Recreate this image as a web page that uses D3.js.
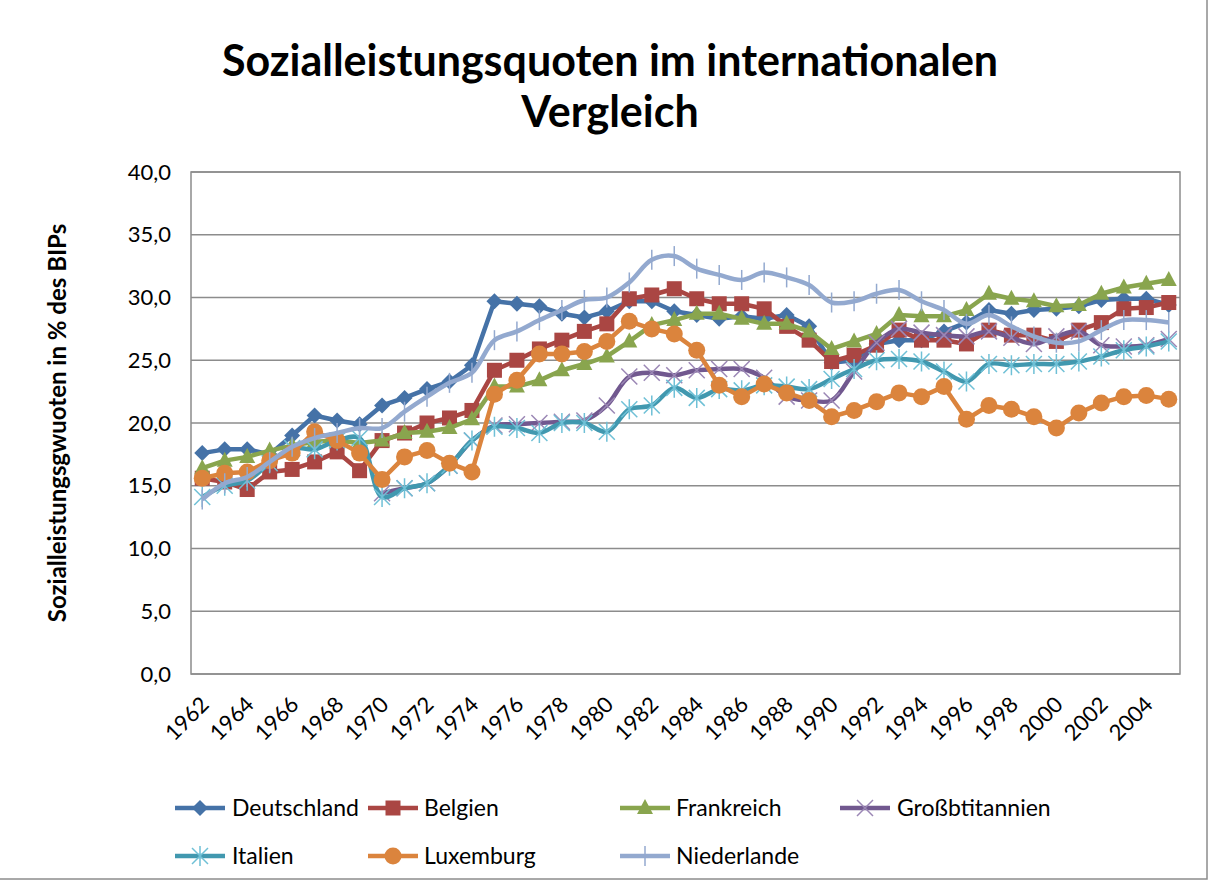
<!DOCTYPE html>
<html>
<head>
  <meta charset="utf-8">
  <title>Sozialleistungsquoten im internationalen Vergleich</title>
  <script src="https://d3js.org/d3.v7.min.js"></script>
  <style>
    body { margin: 0; background: #fff; }
    svg { font-family: Lato, "Open Sans", sans-serif; }
  </style>
</head>
<body>
  <svg id="chart" width="1213" height="883"></svg>

  <script>
    // years shown on the category axis
    const years = d3.range(1962, 2006);
    const tickYears = d3.range(1962, 2005, 2);
    const yTicks = [0, 5, 10, 15, 20, 25, 30, 35, 40];

    // values (% of GDP)
    const deutschland = [17.6, 17.9, 17.9, 17.5, 19.0, 20.6, 20.2, 19.9, 21.4, 22.0, 22.7, 23.3, 24.6,
      29.7, 29.5, 29.3, 28.7, 28.4, 28.9, 29.7, 29.7, 28.9, 28.6, 28.3, 28.5, 28.3, 28.6, 27.7,
      24.8, 25.0, 26.3, 26.6, 26.6, 27.3, 28.0, 29.0, 28.7, 29.0, 29.1, 29.3, 29.8, 29.9, 29.9, 29.4];
    const belgien = [15.6, 15.3, 14.7, 16.1, 16.3, 16.9, 17.7, 16.2, 18.6, 19.2, 20.0, 20.4, 21.0,
      24.2, 25.0, 25.9, 26.6, 27.3, 27.9, 29.9, 30.2, 30.7, 29.9, 29.5, 29.5, 29.1, 27.7, 26.6,
      24.9, 25.4, 26.2, 27.4, 26.6, 26.6, 26.3, 27.4, 27.0, 27.0, 26.5, 27.4, 28.0, 29.1, 29.2, 29.6];
    const frankreich = [16.4, 17.0, 17.3, 17.8, 18.2, 18.5, 18.6, 18.4, 18.6, 19.2, 19.3, 19.6, 20.3,
      22.9, 22.9, 23.4, 24.2, 24.7, 25.3, 26.5, 27.8, 28.2, 28.7, 28.7, 28.3, 27.9, 27.9, 27.3,
      25.9, 26.5, 27.1, 28.6, 28.5, 28.5, 29.0, 30.3, 29.9, 29.7, 29.3, 29.4, 30.3, 30.8, 31.1, 31.4];
    const grossbritannien = [null, null, null, null, null, null, null, null, 14.4, 14.8, 15.2, 16.6, 18.6,
      19.8, 19.9, 20.0, 20.1, 20.2, 21.4, 23.7, 24.0, 23.8, 24.2, 24.3, 24.3, 23.6, 22.1, 21.8,
      21.8, 24.1, 26.4, 27.5, 27.2, 27.0, 26.9, 27.3, 26.8, 26.3, 26.9, 27.3, 26.2, 26.1, 26.2, 26.7];
    const italien = [14.1, 15.0, 15.4, 16.8, 18.0, 17.9, 18.6, 18.8, 14.1, 14.8, 15.2, 16.6, 18.6,
      19.7, 19.6, 19.2, 20.0, 20.0, 19.3, 21.1, 21.4, 22.8, 22.0, 22.7, 22.6, 23.0, 22.9, 22.7,
      23.5, 24.3, 25.0, 25.1, 24.9, 24.1, 23.3, 24.7, 24.6, 24.7, 24.7, 24.9, 25.3, 25.8, 26.1, 26.5];
    const luxemburg = [15.6, 16.0, 16.1, 17.0, 17.6, 19.3, 18.6, 17.6, 15.5, 17.3, 17.8, 16.8, 16.1,
      22.3, 23.4, 25.5, 25.5, 25.7, 26.5, 28.1, 27.5, 27.1, 25.8, 23.0, 22.1, 23.1, 22.4, 21.8,
      20.5, 21.0, 21.7, 22.4, 22.1, 22.9, 20.3, 21.4, 21.1, 20.5, 19.6, 20.8, 21.6, 22.1, 22.2, 21.9];
    const niederlande = [13.9, 15.2, 15.7, 16.9, 18.1, 18.8, 19.2, 19.6, 19.6, 20.9, 22.1, 23.2, 24.0,
      26.6, 27.3, 28.2, 29.0, 29.8, 30.0, 31.2, 33.0, 33.3, 32.3, 31.8, 31.4, 32.0, 31.6, 31.0,
      29.6, 29.7, 30.3, 30.6, 29.7, 29.0, 27.9, 28.6, 27.7, 26.9, 26.4, 26.5, 27.4, 28.2, 28.2, 28.0];

    const seriesNames = ["Deutschland", "Belgien", "Frankreich", "Großbtitannien", "Italien", "Luxemburg", "Niederlande"];
    const seriesValues = [deutschland, belgien, frankreich, grossbritannien, italien, luxemburg, niederlande];
    const seriesColors = ["#4572A7", "#AA4643", "#89A54E", "#71588F", "#4198AF", "#DB843D", "#93A9CF"];
    const markerColors = ["#4572A7", "#AA4643", "#89A54E", "#9B87B5", "#6FC0D6", "#DB843D", "#93A9CF"];
    const markerTypes = ["diamond", "square", "triangle", "x", "star", "circle", "plus"];
    const smooth = [false, false, false, true, true, false, true];

    const svg = d3.select("#chart");

    // outer chart border
    svg.append("rect")
      .attr("x", -2).attr("y", -2)
      .attr("width", 1209).attr("height", 881)
      .attr("fill", "none").attr("stroke", "#8c8c8c").attr("stroke-width", 1.5);

    // plot area
    const plot = { left: 191, right: 1180, top: 172, bottom: 674 };

    const x = d3.scaleBand()
      .domain(years)
      .range([plot.left, plot.right]);

    const y = d3.scaleLinear()
      .domain([0, 40])
      .range([plot.bottom, plot.top]);

    const cx = yr => x(yr) + x.bandwidth() / 2;

    // title
    svg.append("text")
      .attr("x", 610).attr("y", 76)
      .attr("text-anchor", "middle")
      .attr("font-size", 43).attr("font-weight", "bold").attr("fill", "#000")
      .text("Sozialleistungsquoten im internationalen");
    svg.append("text")
      .attr("x", 610).attr("y", 127)
      .attr("text-anchor", "middle")
      .attr("font-size", 43).attr("font-weight", "bold").attr("fill", "#000")
      .text("Vergleich");

    // gridlines
    svg.append("g")
      .selectAll("line")
      .data(yTicks)
      .join("line")
      .attr("x1", plot.left).attr("x2", plot.right)
      .attr("y1", d => y(d)).attr("y2", d => y(d))
      .attr("stroke", "#8c8c8c").attr("stroke-width", 1.5);

    // plot border
    svg.append("rect")
      .attr("x", plot.left).attr("y", plot.top)
      .attr("width", plot.right - plot.left).attr("height", plot.bottom - plot.top)
      .attr("fill", "none").attr("stroke", "#8c8c8c").attr("stroke-width", 1.5);

    // y axis labels
    const yAxis = d3.axisLeft(y)
      .tickValues(yTicks)
      .tickSize(0)
      .tickPadding(20)
      .tickFormat(d => d3.format(".1f")(d).replace(".", ","));
    const yg = svg.append("g")
      .attr("transform", `translate(${plot.left},0)`)
      .call(yAxis);
    yg.select(".domain").remove();
    yg.selectAll("text")
      .attr("font-family", "Lato, 'Open Sans', sans-serif")
      .attr("font-size", 22).attr("fill", "#000");

    svg.append("text")
      .attr("transform", "translate(66,423) rotate(-90)")
      .attr("text-anchor", "middle")
      .attr("font-size", 24).attr("font-weight", "bold").attr("fill", "#000")
      .text("Sozialleistungsgwuoten in % des BIPs");

    // x axis labels
    const xAxis = d3.axisBottom(x)
      .tickValues(tickYears)
      .tickSize(0)
      .tickPadding(0);
    const xg = svg.append("g")
      .attr("transform", `translate(0,${plot.bottom})`)
      .call(xAxis);
    xg.select(".domain").remove();
    xg.selectAll("text")
      .attr("font-family", "Lato, 'Open Sans', sans-serif")
      .attr("font-size", 22).attr("fill", "#000")
      .attr("dy", 0)
      .attr("transform", "translate(8,32) rotate(-45)")
      .style("text-anchor", "end");

    // marker drawing
    function drawMarker(g, type, color) {
      switch (type) {
        case "diamond":
          g.append("path").attr("d", "M0,-8L8,0L0,8L-8,0Z").attr("fill", color);
          break;
        case "square":
          g.append("rect").attr("x", -7.5).attr("y", -7.5).attr("width", 15).attr("height", 15).attr("fill", color);
          break;
        case "triangle":
          g.append("path").attr("d", "M0,-9L8,6L-8,6Z").attr("fill", color);
          break;
        case "circle":
          g.append("circle").attr("r", 8.5).attr("fill", color);
          break;
        case "x":
          g.append("path").attr("d", "M-8,-8L8,8M-8,8L8,-8").attr("stroke", color).attr("stroke-width", 1.5).attr("fill", "none");
          break;
        case "star":
          g.append("path").attr("d", "M-8,-8L8,8M-8,8L8,-8M0,-10L0,10").attr("stroke", color).attr("stroke-width", 1.5).attr("fill", "none");
          break;
        case "plus":
          g.append("path").attr("d", "M0,-10L0,10").attr("stroke", color).attr("stroke-width", 1.5).attr("fill", "none");
          break;
      }
    }

    // series
    seriesNames.forEach((name, i) => {
      const pts = years.map((yr, j) => ({ year: yr, value: seriesValues[i][j] }));
      const line = d3.line()
        .defined(d => d.value !== null)
        .x(d => cx(d.year))
        .y(d => y(d.value))
        .curve(smooth[i] ? d3.curveCatmullRom.alpha(0.5) : d3.curveLinear);

      const g = svg.append("g");
      g.append("path")
        .datum(pts)
        .attr("d", line)
        .attr("fill", "none")
        .attr("stroke", seriesColors[i])
        .attr("stroke-width", 4.5)
        .attr("stroke-linejoin", "round");

      g.selectAll("g.marker")
        .data(pts.filter(d => d.value !== null))
        .join("g")
        .attr("class", "marker")
        .attr("transform", d => `translate(${cx(d.year)},${y(d.value)})`)
        .each(function () { drawMarker(d3.select(this), markerTypes[i], markerColors[i]); });
    });

    // legend
    const legendX = [175, 368, 620, 840];
    const legendTextX = [232, 424, 676, 897];
    const legendRowY = [808, 856];
    seriesNames.forEach((name, i) => {
      const col = i % 4;
      const row = Math.floor(i / 4);
      const lx = legendX[col];
      const gy = legendRowY[row];
      const lg = svg.append("g");
      lg.append("line")
        .attr("x1", lx).attr("x2", lx + 50)
        .attr("y1", gy).attr("y2", gy)
        .attr("stroke", seriesColors[i]).attr("stroke-width", 4.5);
      const mg = lg.append("g").attr("transform", `translate(${lx + 25},${gy})`);
      drawMarker(mg, markerTypes[i], markerColors[i]);
      lg.append("text")
        .attr("x", legendTextX[col]).attr("y", gy + 8)
        .attr("font-size", 23).attr("fill", "#000")
        .text(name);
    });
  </script>
</body>
</html>
